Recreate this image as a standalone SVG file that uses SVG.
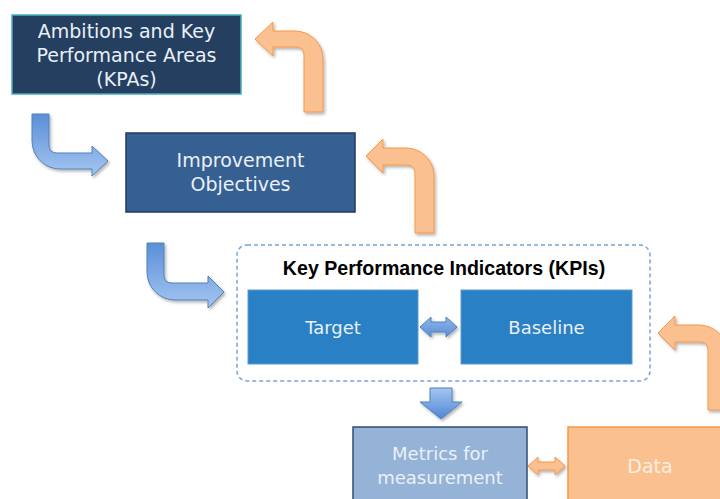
<svg xmlns="http://www.w3.org/2000/svg" width="720" height="499" viewBox="0 0 720 499">
<defs>
<style>
.t{font-family:"DejaVu Sans","Liberation Sans",sans-serif;text-anchor:middle;fill:#eaf0f7}
.big{font-size:19px}
.mid{font-size:18px}
.title{font-family:"Liberation Sans",Arial,sans-serif;font-weight:bold;font-size:19.6px;text-anchor:middle;fill:#000}
.orange{fill:#fac08f;stroke:#f79646;stroke-width:1;filter:url(#sh)}
.blue{stroke:#4f81bd;stroke-width:1;filter:url(#sh)}
</style>
<filter id="sh" x="-20%" y="-20%" width="150%" height="150%">
<feDropShadow dx="1.5" dy="2" stdDeviation="1.5" flood-color="#000" flood-opacity="0.3"/>
</filter>
<linearGradient id="gb" x1="0" y1="0" x2="0" y2="1">
<stop offset="0" stop-color="#5a8fd8"/>
<stop offset="1" stop-color="#a5c6f0"/>
</linearGradient>
<linearGradient id="gd" x1="0" y1="0" x2="0" y2="1">
<stop offset="0" stop-color="#a5c6f0"/>
<stop offset="1" stop-color="#4f86d4"/>
</linearGradient>
<linearGradient id="gh" x1="0" y1="0" x2="0" y2="1">
<stop offset="0" stop-color="#8fb5ea"/>
<stop offset="1" stop-color="#5b8fd6"/>
</linearGradient>
</defs>
<rect width="720" height="499" fill="#fff"/>

<g id="kpis-container">
<rect x="237" y="245" width="413" height="136" rx="10" fill="none" stroke="#7aa3d6" stroke-width="1.5" stroke-dasharray="4,3"/>
<text class="title" x="444" y="275">Key Performance Indicators (KPIs)</text>
</g>

<g id="ambitions">
<rect x="12" y="15" width="229" height="79" fill="#243f60" stroke="#4bacc6" stroke-width="1.5"/>
<text class="t big" x="126.5" y="38">Ambitions and Key</text>
<text class="t big" x="126.5" y="62">Performance Areas</text>
<text class="t big" x="126.5" y="86">(KPAs)</text>
</g>

<g id="objectives">
<rect x="126" y="133" width="229" height="79" fill="#376092" stroke="#1f3a60" stroke-width="1.5"/>
<text class="t big" x="240.5" y="167">Improvement</text>
<text class="t big" x="240.5" y="191">Objectives</text>
</g>

<g id="target">
<rect x="248" y="290" width="170" height="74" fill="#2a80c4" stroke="#5b9bd5" stroke-width="1"/>
<text class="t mid" x="333" y="334">Target</text>
</g>

<g id="baseline">
<rect x="461" y="290" width="171" height="74" fill="#2a80c4" stroke="#5b9bd5" stroke-width="1"/>
<text class="t mid" x="546.5" y="334">Baseline</text>
</g>

<g id="metrics">
<rect x="353" y="427" width="174" height="80" fill="#95b3d7" stroke="#2c4d75" stroke-width="1.5"/>
<text class="t mid" x="440" y="460">Metrics for</text>
<text class="t mid" x="440" y="484">measurement</text>
</g>

<g id="data">
<rect x="568" y="427" width="160" height="80" fill="#fac08f" stroke="#f79646" stroke-width="1.5"/>
<text class="t big" x="650" y="473" style="fill:#fdeee2">Data</text>
</g>

<g id="connectors">
<path class="orange" d="M304,112 L304,55 Q304,47 296,47 L273,47 L273,56 L255,39 L273,22 L273,31 L295,31 A28,28 0 0 1 323,59 L323,112 Z"/>
<path class="orange" d="M415,233 L415,173 Q415,165 407,165 L383,165 L383,173 L366,156 L383,139 L383,148 L406,148 A28,28 0 0 1 434,176 L434,233 Z"/>
<path class="orange" d="M708,410 L708,350 Q708,342 700,342 L675,342 L675,350 L658,333 L675,316 L675,325 L699,325 A28,28 0 0 1 727,353 L727,410 Z"/>
<path class="blue" fill="url(#gb)" d="M32,114 L49,114 L49,145 Q49,153 57,153 L92,153 L92,146 L108,161 L92,176 L92,169 L60,169 A28,28 0 0 1 32,141 Z"/>
<path class="blue" fill="url(#gb)" d="M147,243 L164,243 L164,275 Q164,283 172,283 L208,283 L208,276 L224,292 L208,308 L208,300 L175,300 A28,28 0 0 1 147,272 Z"/>
<path class="blue" fill="url(#gd)" d="M430,388 L452,388 L452,402 L462,402 L441,419 L420,402 L430,402 Z"/>
<path class="blue" fill="url(#gh)" d="M420,327 L431,317 L431,322 L446,322 L446,317 L457,327 L446,337 L446,332 L431,332 L431,337 Z"/>
<path class="orange" d="M528,466 L538,457 L538,462 L555,462 L555,457 L565,466 L555,475 L555,470 L538,470 L538,475 Z"/>
</g>
</svg>
